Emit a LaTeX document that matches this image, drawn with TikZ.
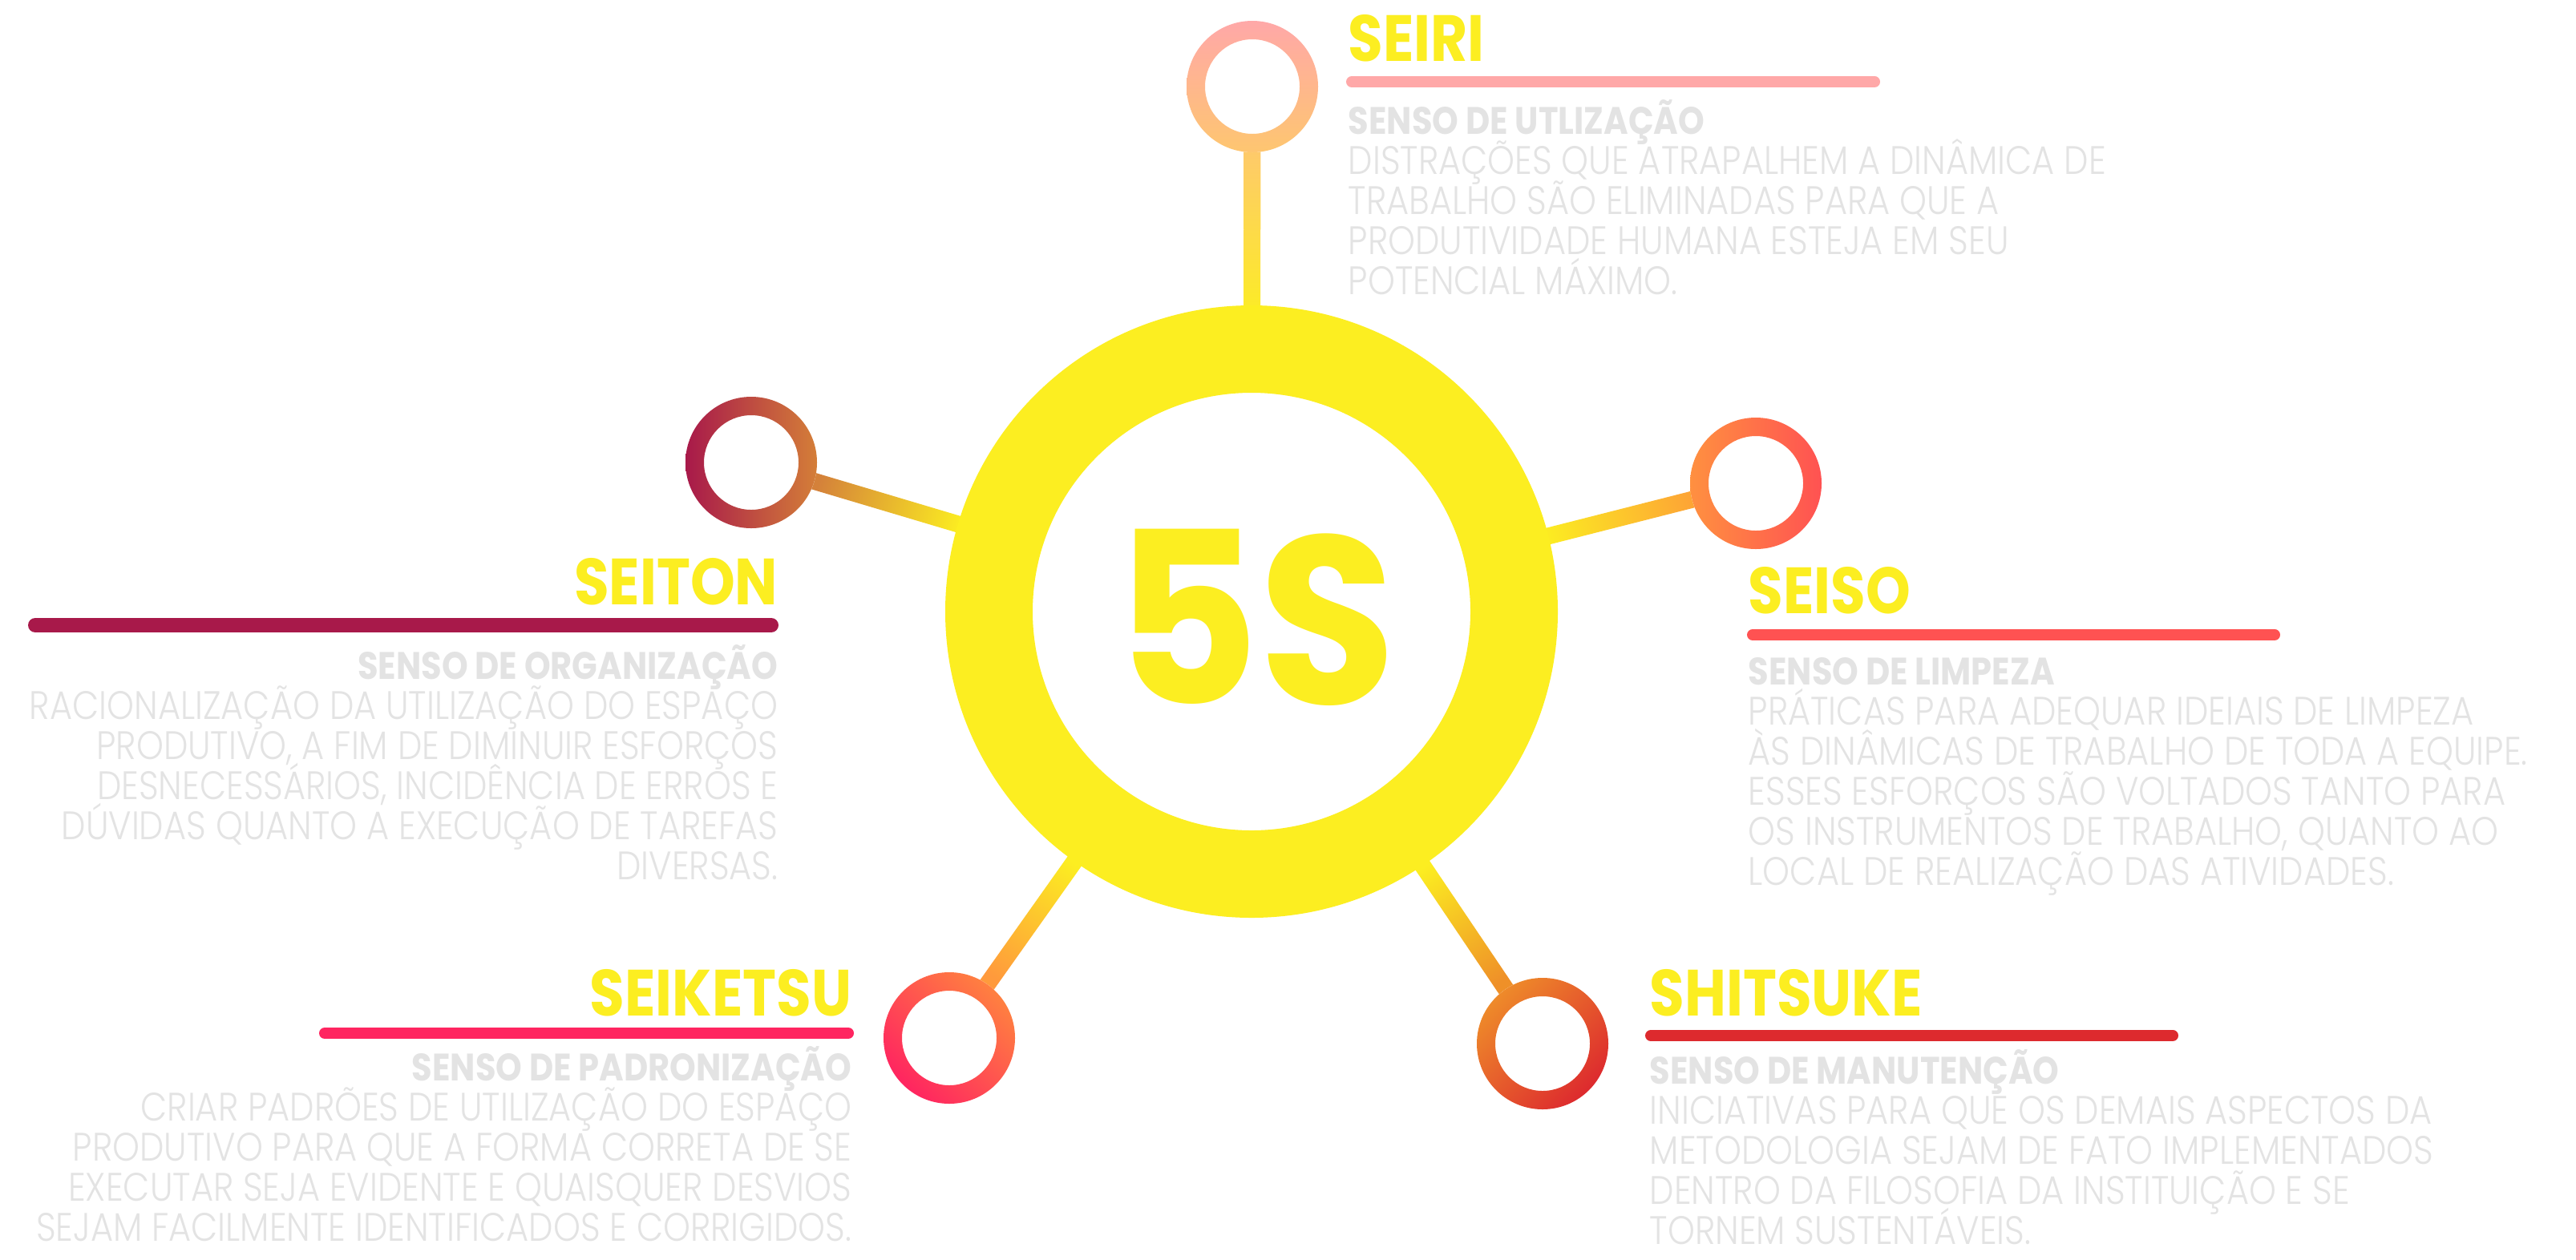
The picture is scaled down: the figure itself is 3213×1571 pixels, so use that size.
\documentclass[tikz,border=0pt]{standalone}
\usepackage{fontspec}
\usetikzlibrary{calc}
\newfontfamily\bodyfont[FakeStretch=0.87]{Poppins Light}
\newfontfamily\headfont[FakeStretch=0.87]{Poppins Bold}
\newfontfamily\bignumfont[FakeStretch=0.93]{Poppins Bold}
\definecolor{hubyellow}{HTML}{FCEE21}
\definecolor{textgray}{HTML}{E3E3E3}
\definecolor{seiriA}{HTML}{FFA8A8}
\definecolor{seiriB}{HTML}{FEC670}
\definecolor{seiriL}{HTML}{FEC86E}
\definecolor{seitonA}{HTML}{A8194A}
\definecolor{seitonB}{HTML}{D47E38}
\definecolor{seitonL}{HTML}{D4813A}
\definecolor{seisoA}{HTML}{FF9040}
\definecolor{seisoB}{HTML}{FF5252}
\definecolor{seisoL}{HTML}{FDA535}
\definecolor{seiketsuA}{HTML}{FF8040}
\definecolor{seiketsuB}{HTML}{FF2560}
\definecolor{seiketsuL}{HTML}{FF9A3C}
\definecolor{shitsukeA}{HTML}{EE8A2A}
\definecolor{shitsukeB}{HTML}{DD2A2E}
\definecolor{shitsukeL}{HTML}{EF9028}
\begin{document}
\begin{tikzpicture}[x=0.1mm, y=0.1mm,
    title/.style={font=\headfont\fontsize{23.2}{28}\selectfont, text=hubyellow, inner sep=0pt},
    sense/.style={font=\headfont\fontsize{13.6}{15}\selectfont, text=textgray, inner sep=0pt},
    body/.style={font=\bodyfont\fontsize{14.1}{15}\selectfont, text=textgray, inner sep=0pt},
    bar/.style={line width=1.4mm, line cap=round}]
    \useasboundingbox (0,0) rectangle (3213,-1571);
    \fill[white] (0,0) rectangle (3213,-1571);

    % Centre and the five outer points
    \coordinate (hub) at (1561,-763);
    \coordinate (seiri) at (1562,-108);
    \coordinate (seiton) at (937,-577);
    \coordinate (seiso) at (2190,-603);
    \coordinate (seiketsu) at (1184,-1295);
    \coordinate (shitsuke) at (1924,-1302);

    % Draw spokes
    \foreach \n/\c/\a in {seiri/seiriL/0, seiton/seitonL/73.4, seiso/seisoL/-75.7,
                          seiketsu/seiketsuL/144.7, shitsuke/shitsukeL/-146} {
      \coordinate (\n-a) at ($(hub)!36mm!(\n)$);
      \coordinate (\n-b) at ($(\n)!7mm!(hub)$);
      \shade[top color=\c, bottom color=hubyellow, shading angle=\a]
        ($(\n-a)!1.05mm!90:(\n-b)$) -- ($(\n-a)!1.05mm!-90:(\n-b)$) --
        ($(\n-b)!1.05mm!90:(\n-a)$) -- ($(\n-b)!1.05mm!-90:(\n-a)$) -- cycle;
    }

    % Draw the big ring
    \fill[hubyellow, even odd rule] (hub) circle[radius=382] (hub) circle[radius=273];
    \node[font=\bignumfont\fontsize{85}{90}\selectfont, text=hubyellow, inner sep=0pt] (fives) at (1566,-770) {5S};

    % Draw the small rings
    \foreach \n/\ca/\cb/\a in {seiri/seiriA/seiriB/0, seiton/seitonA/seitonB/90,
                               seiso/seisoA/seisoB/90, seiketsu/seiketsuA/seiketsuB/-45,
                               shitsuke/shitsukeA/shitsukeB/45} {
      \fill[white] (\n) circle[radius=82];
      \shade[top color=\ca, bottom color=\cb, shading angle=\a, even odd rule]
        (\n) circle[radius=82] (\n) circle[radius=59];
    }

    % SEIRI
    \node[title, anchor=base west] (seiri-t) at (1681,-76) {SEIRI};
    \draw[bar, seiriA] (1686,-102) -- (2338,-102);
    \node[sense, anchor=base west] (seiri-s) at (1681,-167) {SENSO DE UTLIZAÇÃO};
    \foreach \t [count=\i] in {DISTRAÇÕES QUE ATRAPALHEM A DINÂMICA DE,
                               TRABALHO SÃO ELIMINADAS PARA QUE A,
                               PRODUTIVIDADE HUMANA ESTEJA EM SEU,
                               POTENCIAL MÁXIMO.}
      \node[body, anchor=base west] (seiri-\i) at (1681,{-167-50*\i}) {\t};

    % SEITON
    \node[title, anchor=base east] (seiton-t) at (971,-754) {SEITON};
    \draw[bar, seitonA, line width=1.8mm] (44,-780) -- (962,-780);
    \node[sense, anchor=base east] (seiton-s) at (971,-847) {SENSO DE ORGANIZAÇÃO};
    \foreach \t [count=\i] in {RACIONALIZAÇÃO DA UTILIZAÇÃO DO ESPAÇO,
                               {PRODUTIVO, A FIM DE DIMINUIR ESFORÇOS},
                               {DESNECESSÁRIOS, INCIDÊNCIA DE ERROS E},
                               DÚVIDAS QUANTO A EXECUÇÃO DE TAREFAS,
                               DIVERSAS.}
      \node[body, anchor=base east] (seiton-\i) at (971,{-847-50*\i}) {\t};

    % SEISO
    \node[title, anchor=base west] (seiso-t) at (2180,-765) {SEISO};
    \draw[bar, seisoB] (2186,-792) -- (2837,-792);
    \node[sense, anchor=base west] (seiso-s) at (2180,-854) {SENSO DE LIMPEZA};
    \foreach \t [count=\i] in {PRÁTICAS PARA ADEQUAR IDEIAIS DE LIMPEZA,
                               ÀS DINÂMICAS DE TRABALHO DE TODA A EQUIPE.,
                               ESSES ESFORÇOS SÃO VOLTADOS TANTO PARA,
                               {OS INSTRUMENTOS DE TRABALHO, QUANTO AO},
                               LOCAL DE REALIZAÇÃO DAS ATIVIDADES.}
      \node[body, anchor=base west] (seiso-\i) at (2180,{-854-50*\i}) {\t};

    % SEIKETSU
    \node[title, anchor=base east] (seiketsu-t) at (1063,-1267) {SEIKETSU};
    \draw[bar, seiketsuB] (405,-1289) -- (1058,-1289);
    \node[sense, anchor=base east] (seiketsu-s) at (1063,-1348) {SENSO DE PADRONIZAÇÃO};
    \foreach \t [count=\i] in {CRIAR PADRÕES DE UTILIZAÇÃO DO ESPAÇO,
                               PRODUTIVO PARA QUE A FORMA CORRETA DE SE,
                               EXECUTAR SEJA EVIDENTE E QUAISQUER DESVIOS,
                               SEJAM FACILMENTE IDENTIFICADOS E CORRIGIDOS.}
      \node[body, anchor=base east] (seiketsu-\i) at (1063,{-1348-50*\i}) {\t};

    % SHITSUKE
    \node[title, anchor=base west] (shitsuke-t) at (2057,-1267) {SHITSUKE};
    \draw[bar, shitsukeB] (2059,-1292) -- (2710,-1292);
    \node[sense, anchor=base west] (shitsuke-s) at (2057,-1352) {SENSO DE MANUTENÇÃO};
    \foreach \t [count=\i] in {INICIATIVAS PARA QUE OS DEMAIS ASPECTOS DA,
                               METODOLOGIA SEJAM DE FATO IMPLEMENTADOS,
                               DENTRO DA FILOSOFIA DA INSTITUIÇÃO E SE,
                               TORNEM SUSTENTÁVEIS.}
      \node[body, anchor=base west] (shitsuke-\i) at (2057,{-1352-50*\i}) {\t};
\end{tikzpicture}
\end{document}
